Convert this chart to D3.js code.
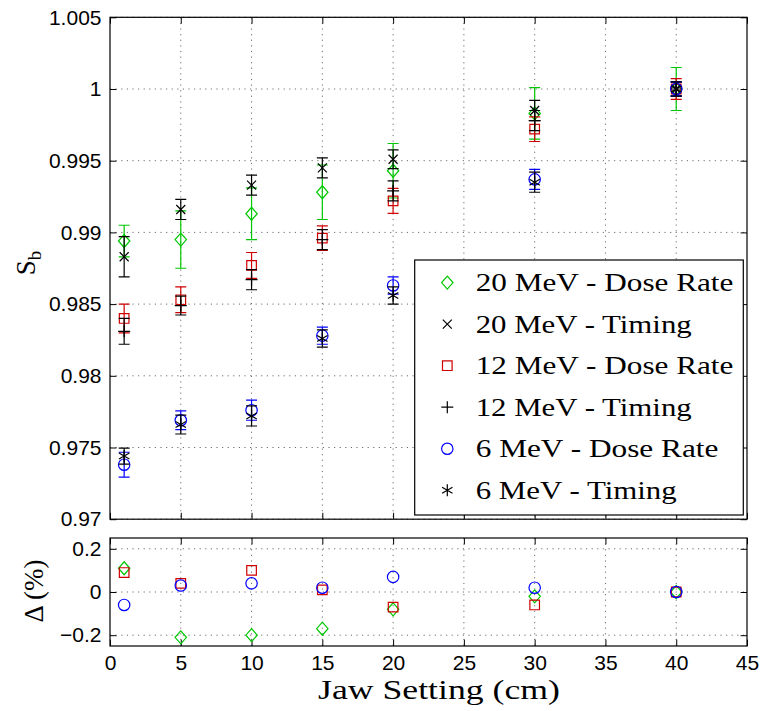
<!DOCTYPE html>
<html>
<head>
<meta charset="utf-8">
<script src="https://cdn.jsdelivr.net/npm/d3@7"></script>
<style>
  body { margin: 0; background: #fff; }
  svg { display: block; }
</style>
</head>
<body>
<svg id="chart" width="763" height="711"></svg>
<script>
// Jaw settings (cm)
const jaw = [1, 5, 10, 15, 20, 30, 40];

// S_b measured with the dose-rate method and with the timing method, with uncertainties
const sb20Dose    = [0.9894, 0.9895, 0.9913, 0.9928, 0.9943, 0.9983, 1.0000];
const err20Dose   = [0.0011, 0.0020, 0.0018, 0.0019, 0.0019, 0.0018, 0.0015];
const sb20Timing  = [0.9883, 0.9916, 0.9933, 0.9945, 0.9951, 0.9985, 1.0000];
const err20Timing = [0.0014, 0.0007, 0.0007, 0.0007, 0.00065, 0.0007, 0.0005];

const sb12Dose    = [0.9840, 0.9853, 0.9877, 0.9896, 0.9922, 0.9972, 1.0000];
const err12Dose   = [0.0010, 0.0009, 0.0009, 0.00086, 0.00087, 0.00086, 0.00073];
const sb12Timing  = [0.9831, 0.9849, 0.9867, 0.9895, 0.9929, 0.9978, 1.0000];
const err12Timing = [0.0009, 0.00066, 0.0007, 0.0007, 0.0007, 0.0007, 0.0005];

const sb6Dose     = [0.9738, 0.9769, 0.9776, 0.9828, 0.9863, 0.9937, 1.0000];
const err6Dose    = [0.00087, 0.00066, 0.0007, 0.0006, 0.0006, 0.0007, 0.0005];
const sb6Timing   = [0.9744, 0.9766, 0.9772, 0.9826, 0.9856, 0.9935, 1.0000];
const err6Timing  = [0.00056, 0.00066, 0.0007, 0.0006, 0.0006, 0.0007, 0.0005];

// Difference between the two methods (%)
const delta20 = [0.11, -0.21, -0.20, -0.17, -0.08, -0.02, 0];
const delta12 = [0.09, 0.04, 0.10, 0.01, -0.07, -0.06, 0];
const delta6  = [-0.06, 0.03, 0.04, 0.02, 0.07, 0.02, 0];

// Axis ticks
const xTicks = [0, 5, 10, 15, 20, 25, 30, 35, 40, 45];
const yTicks = [0.97, 0.975, 0.98, 0.985, 0.99, 0.995, 1, 1.005];
const yTickLabels = ["0.97", "0.975", "0.98", "0.985", "0.99", "0.995", "1", "1.005"];
const dTicks = [-0.2, 0, 0.2];
const dTickLabels = ["\u22120.2", "0", "0.2"];

const legendLabels = [
  "20 MeV - Dose Rate", "20 MeV - Timing",
  "12 MeV - Dose Rate", "12 MeV - Timing",
  "6 MeV - Dose Rate", "6 MeV - Timing"
];

// ---------------------------------------------------------------
const GREEN = "#00c800", RED = "#d00000", BLUE = "#0000ff", BLACK = "#000";

const markers = {
  diamond: "M0,-6.5L5.7,0L0,6.5L-5.7,0Z",
  square: "M-4.8,-4.8H4.8V4.8H-4.8Z",
  circle: "M5.7,0A5.7,5.7 0 1,1 -5.7,0A5.7,5.7 0 1,1 5.7,0Z",
  cross: "M-4.5,-4.5L4.5,4.5M-4.5,4.5L4.5,-4.5",
  plus: "M-6,0H6M0,-6V6",
  star: "M0,-6V6M-5.2,-3L5.2,3M-5.2,3L5.2,-3"
};

const series = [
  { values: sb20Dose,   errors: err20Dose,   color: GREEN, marker: "diamond", label: legendLabels[0] },
  { values: sb20Timing, errors: err20Timing, color: BLACK, marker: "cross",   label: legendLabels[1] },
  { values: sb12Dose,   errors: err12Dose,   color: RED,   marker: "square",  label: legendLabels[2] },
  { values: sb12Timing, errors: err12Timing, color: BLACK, marker: "plus",    label: legendLabels[3] },
  { values: sb6Dose,    errors: err6Dose,    color: BLUE,  marker: "circle",  label: legendLabels[4] },
  { values: sb6Timing,  errors: err6Timing,  color: BLACK, marker: "star",    label: legendLabels[5] }
];

const deltaSeries = [
  { values: delta20, color: GREEN, marker: "diamond" },
  { values: delta12, color: RED,   marker: "square" },
  { values: delta6,  color: BLUE,  marker: "circle" }
];

// Layout
const left = 110, right = 747;
const mainTop = 17.3, mainBottom = 519.2;
const lowTop = 538, lowBottom = 646;
const tickLen = 6.4;
const sansFont = "'Liberation Sans', Arial, Helvetica, sans-serif";
const serifFont = "'Liberation Serif', 'Times New Roman', serif";

const x = d3.scaleLinear().domain([0, 45]).range([left, right]);
const yMain = d3.scaleLinear().domain([0.97, 1.005]).range([mainBottom, mainTop]);
const yLow = d3.scaleLinear().domain([-0.25, 0.25]).range([lowBottom, lowTop]);

const svg = d3.select("#chart");
svg.append("rect").attr("width", 763).attr("height", 711).attr("fill", "#fff");

function drawPanel(y, top, bottom, yTickVals, yLabels, showX) {
  const g = svg.append("g");

  // dotted grid
  const grid = g.append("g")
    .attr("stroke", "#6e6e6e").attr("stroke-width", 1)
    .attr("stroke-dasharray", "1.2,4.4").attr("fill", "none");
  grid.selectAll("line.gx").data(xTicks.filter(d => d > 0 && d < 45)).join("line")
    .attr("x1", d => x(d)).attr("x2", d => x(d))
    .attr("y1", top).attr("y2", bottom);
  grid.selectAll("line.gy").data(yTickVals).join("line")
    .attr("x1", left).attr("x2", right)
    .attr("y1", d => y(d)).attr("y2", d => y(d));

  // axes with inward ticks on all four sides
  const styleAxis = sel => {
    sel.select(".domain").remove();
    sel.selectAll(".tick line").attr("stroke", "#000").attr("stroke-width", 1);
    sel.selectAll(".tick text").attr("fill", "#000")
      .style("font-family", sansFont).style("font-size", "21px");
  };
  g.append("g").attr("transform", `translate(${left},0)`)
    .call(d3.axisLeft(y).tickValues(yTickVals).tickFormat((d, i) => yLabels[i])
      .tickSizeInner(-tickLen).tickSizeOuter(0).tickPadding(8.5))
    .call(styleAxis);
  g.append("g").attr("transform", `translate(${right},0)`)
    .call(d3.axisRight(y).tickValues(yTickVals).tickFormat("")
      .tickSizeInner(-tickLen).tickSizeOuter(0))
    .call(styleAxis);
  g.append("g").attr("transform", `translate(0,${top})`)
    .call(d3.axisTop(x).tickValues(xTicks).tickFormat("")
      .tickSizeInner(-tickLen).tickSizeOuter(0))
    .call(styleAxis);
  g.append("g").attr("transform", `translate(0,${bottom})`)
    .call(d3.axisBottom(x).tickValues(xTicks).tickFormat(showX ? d3.format("d") : "")
      .tickSizeInner(-tickLen).tickSizeOuter(0).tickPadding(9.5))
    .call(styleAxis);

  // frame
  g.append("rect").attr("x", left).attr("y", top)
    .attr("width", right - left).attr("height", bottom - top)
    .attr("fill", "none").attr("stroke", "#000").attr("stroke-width", 1.2);
  return g;
}

drawPanel(yMain, mainTop, mainBottom, yTicks, yTickLabels, false);
drawPanel(yLow, lowTop, lowBottom, dTicks, dTickLabels, true);

// Main panel: error bars and markers
const capHalf = 5.5;
const mainG = svg.append("g").attr("fill", "none").attr("stroke-width", 1.2);
series.forEach(s => {
  const pts = jaw.map((j, i) => ({ j, v: s.values[i], e: s.errors[i] }));
  const sg = mainG.append("g").attr("stroke", s.color);
  sg.selectAll("path.err").data(pts).join("path")
    .attr("class", "err")
    .attr("d", d => {
      const cx = x(d.j), yt = yMain(d.v + d.e), yb = yMain(d.v - d.e);
      return `M${cx},${yt}V${yb}M${cx - capHalf},${yt}H${cx + capHalf}M${cx - capHalf},${yb}H${cx + capHalf}`;
    });
  sg.selectAll("path.mk").data(pts).join("path")
    .attr("class", "mk")
    .attr("transform", d => `translate(${x(d.j)},${yMain(d.v)})`)
    .attr("d", markers[s.marker]);
});

// Lower panel: method difference
const lowG = svg.append("g").attr("fill", "none").attr("stroke-width", 1.2);
deltaSeries.forEach(s => {
  lowG.append("g").attr("stroke", s.color)
    .selectAll("path").data(jaw.map((j, i) => ({ j, v: s.values[i] }))).join("path")
    .attr("transform", d => `translate(${x(d.j)},${yLow(d.v)})`)
    .attr("d", markers[s.marker]);
});

// Legend
const legX = 414.7, legY = 260, legW = 328.6, legH = 255;
const leg = svg.append("g");
leg.append("rect").attr("x", legX).attr("y", legY).attr("width", legW).attr("height", legH)
  .attr("fill", "#fff").attr("stroke", "#000").attr("stroke-width", 1.2);
const rowY = d3.scaleLinear().domain([0, 5]).range([282.6, 490.3]);
const textWidths = [257.7, 216, 257.7, 216, 242.7, 201];
series.forEach((s, i) => {
  leg.append("path")
    .attr("transform", `translate(447.3,${rowY(i)})`)
    .attr("d", markers[s.marker])
    .attr("fill", "none").attr("stroke", s.color).attr("stroke-width", 1.2);
  leg.append("text")
    .attr("x", 475.7).attr("y", rowY(i) + 8.6)
    .attr("textLength", textWidths[i]).attr("lengthAdjust", "spacingAndGlyphs")
    .style("font-family", serifFont).style("font-size", "25px")
    .attr("fill", "#000")
    .text(s.label);
});

// Axis titles
const yTitle = svg.append("text")
  .attr("transform", "translate(35,263) rotate(-90)")
  .attr("text-anchor", "middle")
  .style("font-family", serifFont).style("font-size", "27px").attr("fill", "#000");
yTitle.append("tspan").text("S");
yTitle.append("tspan").attr("dy", 6).style("font-size", "19px").text("b");

svg.append("text")
  .attr("transform", "translate(43,591) rotate(-90)")
  .attr("text-anchor", "middle")
  .style("font-family", serifFont).style("font-size", "27px").attr("fill", "#000")
  .text("\u0394 (%)");

svg.append("text")
  .attr("x", 439).attr("y", 699)
  .attr("text-anchor", "middle")
  .attr("textLength", 242).attr("lengthAdjust", "spacingAndGlyphs")
  .style("font-family", serifFont).style("font-size", "27px").attr("fill", "#000")
  .text("Jaw Setting (cm)");
</script>
</body>
</html>
